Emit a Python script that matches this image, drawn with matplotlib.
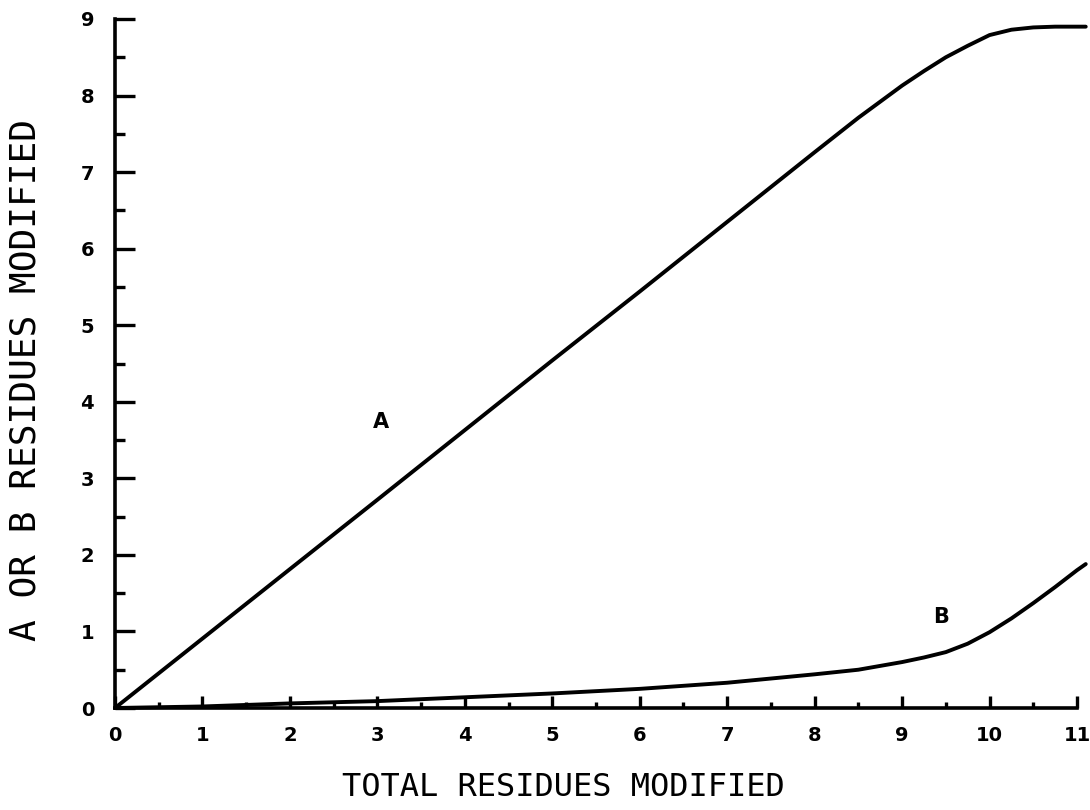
import matplotlib
matplotlib.use("Agg")
import matplotlib.pyplot as plt
from matplotlib.ticker import MultipleLocator

# Curve A: residues of type A modified vs. total residues modified
total_a = [0, 1, 2, 3, 4, 5, 6, 7, 8, 8.5, 9, 9.25, 9.5, 9.75, 10, 10.25, 10.5, 10.75, 11, 11.1]
res_a = [0, 0.907, 1.814, 2.72, 3.63, 4.54, 5.44, 6.35, 7.26, 7.71, 8.13, 8.32, 8.50, 8.65, 8.79, 8.86, 8.89, 8.90, 8.90, 8.90]

# Curve B: residues of type B modified vs. total residues modified
total_b = [0, 0.5, 1, 1.5, 2, 3, 4, 5, 6, 7, 8, 8.5, 9, 9.25, 9.5, 9.75, 10, 10.25, 10.5, 10.75, 11, 11.1]
res_b = [0, 0.01, 0.02, 0.04, 0.06, 0.09, 0.14, 0.19, 0.25, 0.33, 0.44, 0.50, 0.60, 0.66, 0.73, 0.84, 0.99, 1.17, 1.37, 1.58, 1.80, 1.88]

x_ticks = list(range(0, 12))
y_ticks = list(range(0, 10))

fig = plt.figure(figsize=(10.9, 8.1), dpi=100)
ax = fig.add_axes([115 / 1090, 1 - 708 / 810, (1077 - 115) / 1090, (708 - 19) / 810])

lw = 2.8
ax.plot(total_a, res_a, color="black", lw=lw, clip_on=False, solid_capstyle="round")
ax.plot(total_b, res_b, color="black", lw=lw, clip_on=False, solid_capstyle="round")

ax.text(3.04, 3.73, "A", fontsize=15, fontweight="bold", ha="center", va="center")
ax.text(9.44, 1.19, "B", fontsize=15, fontweight="bold", ha="center", va="center")

ax.set_xlim(0, 11)
ax.set_ylim(0, 9)
ax.set_xticks(x_ticks)
ax.set_yticks(y_ticks)
ax.xaxis.set_minor_locator(MultipleLocator(0.5))
ax.yaxis.set_minor_locator(MultipleLocator(0.5))

for side in ("top", "right"):
    ax.spines[side].set_visible(False)
for side in ("left", "bottom"):
    ax.spines[side].set_linewidth(2.6)

ax.tick_params(axis="x", which="major", direction="in", length=9, width=2.4,
               pad=13, labelsize=14)
ax.tick_params(axis="x", which="minor", direction="in", length=4, width=2.4)
ax.tick_params(axis="y", which="major", direction="in", length=14.5, width=2.4,
               pad=15, labelsize=14)
ax.tick_params(axis="y", which="minor", direction="in", length=7.5, width=2.4)
for lab in ax.get_xticklabels() + ax.get_yticklabels():
    lab.set_fontweight("bold")

fig.text(563 / 1090, 1 - 788 / 810, "TOTAL RESIDUES MODIFIED",
         family="DejaVu Sans Mono", fontsize=23, ha="center", va="center")
fig.text(26 / 1090, 1 - 380 / 810, "A OR B RESIDUES MODIFIED",
         family="DejaVu Sans Mono", fontsize=26, ha="center", va="center",
         rotation=90)

fig.savefig("out.png", dpi=100, facecolor="white")
